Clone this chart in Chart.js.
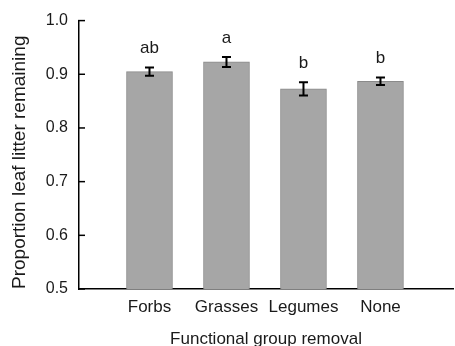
<!DOCTYPE html>
<html>
<head>
<meta charset="utf-8">
<script src="https://cdn.jsdelivr.net/npm/chart.js@4.4.1/dist/chart.umd.min.js"></script>
<style>
  html, body { margin: 0; padding: 0; background: #fff; }
  #wrap { width: 455px; height: 346px; }
</style>
</head>
<body>
<div id="wrap"><canvas id="mycanvas" width="455" height="346"></canvas></div>
<script>
const categories = ["Forbs", "Grasses", "Legumes", "None"];
const means = [0.905, 0.923, 0.873, 0.887];
const errors = [0.0078, 0.0093, 0.0123, 0.007];
const letters = ["ab", "a", "b", "b"];
const yTicks = [0.5, 0.6, 0.7, 0.8, 0.9, 1.0];

const FONT = "'Liberation Sans', Arial, sans-serif";
const TEXT = "#1a1a1a";

// error bars, group letters and inward y ticks
const extras = {
    id: "extras",
    afterDatasetsDraw(chart) {
        const ctx = chart.ctx;
        const xs = chart.scales.x;
        const ys = chart.scales.y;
        ctx.save();
        ctx.strokeStyle = "#000";
        ctx.lineWidth = 2;
        means.forEach((m, i) => {
            const x = xs.getPixelForValue(i);
            const top = ys.getPixelForValue(m + errors[i]);
            const bot = ys.getPixelForValue(m - errors[i]);
            ctx.beginPath();
            ctx.moveTo(x, top); ctx.lineTo(x, bot);
            ctx.moveTo(x - 4.5, top); ctx.lineTo(x + 4.5, top);
            ctx.moveTo(x - 4.5, bot); ctx.lineTo(x + 4.5, bot);
            ctx.stroke();
            ctx.fillStyle = TEXT;
            ctx.font = "17px " + FONT;
            ctx.textAlign = "center";
            ctx.textBaseline = "middle";
            ctx.fillText(letters[i], x, top - 19);
        });
        ctx.lineWidth = 1.5;
        yTicks.forEach(v => {
            const y = ys.getPixelForValue(v);
            ctx.beginPath();
            ctx.moveTo(ys.right - 1, y);
            ctx.lineTo(ys.right + 6, y);
            ctx.stroke();
        });
        ctx.restore();
    }
};

const ctx = document.getElementById("mycanvas").getContext("2d");

new Chart(ctx, {
    type: "bar",
    data: {
        datasets: [
            {
                data: categories.map((c, i) => ({ x: i, y: means[i] })),
                base: 0.5,
                backgroundColor: "#a6a6a6",
                borderColor: "#8a8a8a",
                borderWidth: 1,
                barThickness: 46
            }
        ]
    },
    options: {
        responsive: false,
        animation: false,
        layout: {
            padding: { top: 19, left: 0, bottom: 0, right: 2 }
        },
        plugins: {
            legend: { display: false },
            tooltip: { enabled: false }
        },
        scales: {
            x: {
                type: "linear",
                offset: false,
                min: -0.9156,
                max: 3.942,
                grid: { display: false, offset: false, drawTicks: false },
                border: { display: true, color: "#000", width: 1.5 },
                afterBuildTicks: (scale) => {
                    scale.ticks = categories.map((c, i) => ({ value: i }));
                },
                afterFit: (scale) => { scale.height = 57; },
                ticks: {
                    autoSkip: false,
                    maxRotation: 0,
                    padding: 8,
                    color: TEXT,
                    font: { family: FONT, size: 17 },
                    callback: (v) => categories[v]
                },
                title: {
                    display: true,
                    text: "Functional group removal",
                    color: TEXT,
                    font: { family: FONT, size: 17, lineHeight: 0.8 },
                    padding: { top: 0, bottom: 0 }
                }
            },
            y: {
                min: 0.5,
                max: 1.0,
                grid: { display: false, drawTicks: false },
                border: { display: true, color: "#000", width: 1.5 },
                afterBuildTicks: (scale) => {
                    scale.ticks = yTicks.map(v => ({ value: v }));
                },
                afterFit: (scale) => { scale.width = 79; },
                ticks: {
                    padding: 11,
                    color: TEXT,
                    font: { family: FONT, size: 16 },
                    callback: (v) => v.toFixed(1)
                },
                title: {
                    display: true,
                    align: "start",
                    text: "Proportion leaf litter remaining",
                    color: TEXT,
                    font: { family: FONT, size: 19 },
                    padding: { top: 8, bottom: 0 }
                }
            }
        }
    },
    plugins: [extras]
});
</script>
</body>
</html>
